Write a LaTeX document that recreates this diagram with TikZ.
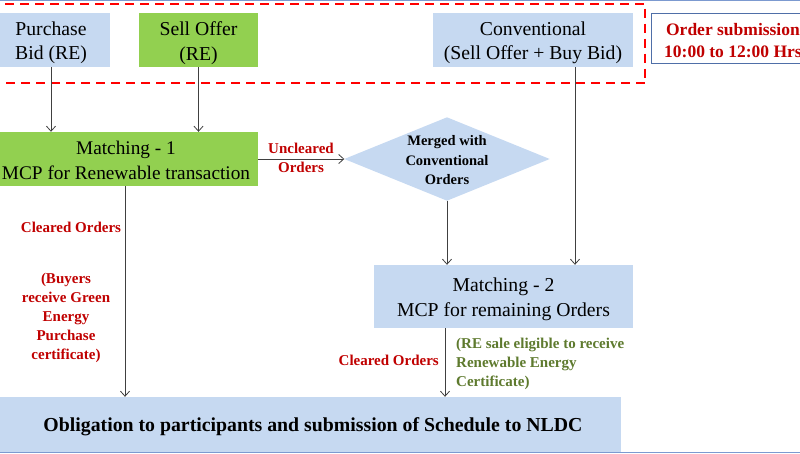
\documentclass[tikz,border=0pt]{standalone}
\usepackage{fontspec}
\setmainfont{Liberation Serif}
\usetikzlibrary{arrows.meta,shapes.geometric}
\definecolor{lblue}{HTML}{C6D9F1}
\definecolor{lgreen}{HTML}{92D050}
\definecolor{dred}{HTML}{C00000}
\definecolor{olive}{HTML}{5E7A2E}
\definecolor{bordblue}{HTML}{4F6FA8}
\definecolor{lineblue}{HTML}{7C9AD0}
\definecolor{arrgray}{HTML}{404040}
\tikzset{
  box/.style={rectangle, inner sep=0pt},
  bluebox/.style={box, fill=lblue},
  greenbox/.style={box, fill=lgreen},
  boxtext/.style={inner sep=0pt, align=center, font=\fontsize{19.7}{24.5}\selectfont},
  redlbl/.style={inner sep=0pt, align=center, text=dred, font=\bfseries\fontsize{15}{19}\selectfont},
  greenlbl/.style={inner sep=0pt, align=left, text=olive, font=\bfseries\fontsize{15}{19}\selectfont},
  arr/.style={draw=arrgray, line width=0.8pt, -{Straight Barb[length=5pt,width=9pt]}},
}
\begin{document}
\begin{tikzpicture}[x=1pt,y=-1pt]
\useasboundingbox (0,0) rectangle (800,453);
% top and bottom thin lines
\draw[lineblue, line width=1pt] (0,0.5) -- (800,0.5);
\draw[lineblue, line width=1.2pt] (0,452.3) -- (800,452.3);
% red dashed frame
\draw[red, line width=2pt, dash pattern=on 9pt off 6pt] (-10,3.5) -- (645,3.5) -- (645,83) -- (-10,83);
% input boxes
\node[bluebox, minimum width=118, minimum height=54] (pb) at (51,40) {};
\node[boxtext] (pbt) at ([yshift=-3pt]pb.center) {Purchase\\Bid (RE)};
\node[greenbox, minimum width=119, minimum height=54] (so) at (198.5,40) {};
\node[boxtext] (sot) at ([yshift=-3pt]so.center) {Sell Offer\\(RE)};
\node[bluebox, minimum width=200, minimum height=54] (conv) at (533,40) {};
\node[boxtext] (convt) at ([yshift=-3pt]conv.center) {Conventional\\(Sell Offer + Buy Bid)};
\node[rectangle, draw=bordblue, line width=0.8pt, fill=white, minimum width=170, minimum height=50, inner sep=0pt] (ord) at (736,38) {};
\node[inner sep=0pt, align=center, text=dred, font=\bfseries\fontsize{17.5}{22}\selectfont, anchor=west] (ordt) at (664,40.5) {Order submission\\10:00 to 12:00 Hrs};
% matching 1
\node[greenbox, minimum width=266, minimum height=54] (m1) at (125,159) {};
\node[boxtext, font=\fontsize{19.3}{24.5}\selectfont] (m1t) at ([xshift=1pt,yshift=-1.5pt]m1.center) {Matching - 1\\MCP for Renewable transaction};
% diamond
\node[rectangle, inner sep=0pt, minimum width=205, minimum height=83] (dia) at (447,159) {};
\fill[lblue] (dia.west) -- (dia.north) -- (dia.east) -- (dia.south) -- cycle;
\node[inner sep=0pt, align=center, font=\bfseries\fontsize{14.5}{19.5}\selectfont] (diat) at ([yshift=-1.5pt]dia.center) {Merged with\\Conventional\\Orders};
% matching 2
\node[bluebox, minimum width=259, minimum height=63] (m2) at (503.5,296.5) {};
\node[boxtext] (m2t) at ([yshift=-3pt]m2.center) {Matching - 2\\MCP for remaining Orders};
% bottom box
\node[bluebox, minimum width=629, minimum height=55] (bot) at (306.5,424.5) {};
\node[inner sep=0pt, font=\bfseries\fontsize{19.8}{24}\selectfont] (bott) at (313,427) {Obligation to participants and submission of Schedule to NLDC};
% arrows
\draw[arr] (pb.south) -- (pb.south |- m1.north);
\draw[arr] (so.south) -- (so.south |- m1.north);
\draw[arr] (m1.east) -- (dia.west);
\draw[arr] (dia.south) -- (dia.south |- m2.north);
\draw[arr] ([xshift=42pt]conv.south) -- ([xshift=42pt]conv.south |- m2.north);
\draw[arr] (m1.south) -- (m1.south |- bot.north);
\draw[arr] ([xshift=-58.5pt]m2.south) -- ([xshift=-58.5pt]m2.south |- bot.north);
% labels
\node[redlbl] (unc) at (301,157.5) {Uncleared\\Orders};
\node[redlbl] (cl1) at (71,227) {Cleared Orders};
\node[redlbl] (buy) at (66,318) {(Buyers\\receive Green\\Energy\\Purchase\\certificate)};
\node[redlbl, anchor=east] (cl2) at (439,360) {Cleared Orders};
\node[greenlbl, anchor=north west] (re) at (456,338) {(RE sale eligible to receive\\Renewable Energy\\Certificate)};
\end{tikzpicture}
\end{document}
